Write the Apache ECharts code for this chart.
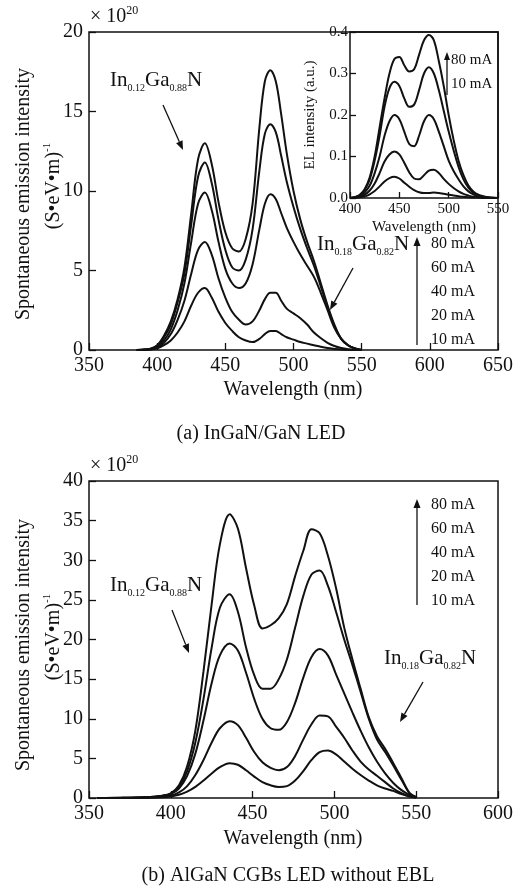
<!DOCTYPE html>
<html>
<head>
<meta charset="utf-8">
<script src="https://cdn.jsdelivr.net/npm/echarts@6.0.0/dist/echarts.min.js"></script>
<style>
  html, body { margin: 0; padding: 0; background: #fff; }
  #chart { width: 523px; height: 892px; }
</style>
</head>
<body>
<div id="chart"></div>
<script>
const SERIF = '"Liberation Serif", "Times New Roman", serif'
const INK = '#111'

// (a) InGaN/GaN LED, spontaneous emission (x 10^20)
const wlA = [385, 390, 395, 400, 405, 410, 415, 420, 425, 430, 435, 440, 445, 450, 455, 460, 465, 470, 475, 479, 483, 487, 491, 495, 500, 505, 510, 515, 520, 525, 530, 535, 540, 545, 550]
const a80 = [0, 0.02, 0.08, 0.3, 0.9, 1.8, 3.2, 5.2, 8.6, 12.0, 13.0, 11.7, 9.3, 7.4, 6.4, 6.2, 7.0, 9.2, 14.0, 16.9, 17.6, 16.9, 14.8, 12.4, 10.0, 8.2, 6.8, 5.6, 4.2, 2.8, 1.6, 0.7, 0.3, 0.1, 0]
const a60 = [0, 0.02, 0.07, 0.25, 0.8, 1.6, 3.0, 4.8, 7.9, 10.9, 11.8, 10.5, 8.2, 6.3, 5.2, 5.0, 5.7, 7.6, 11.3, 13.6, 14.2, 13.7, 12.2, 10.6, 9.0, 7.6, 6.4, 5.3, 4.0, 2.7, 1.5, 0.7, 0.3, 0.1, 0]
const a40 = [0, 0.01, 0.05, 0.2, 0.6, 1.3, 2.5, 4.2, 6.8, 9.2, 9.9, 8.8, 6.8, 5.1, 4.2, 3.9, 4.2, 5.4, 7.6, 9.2, 9.8, 9.5, 8.6, 7.7, 6.8, 6.0, 5.3, 4.6, 3.6, 2.5, 1.4, 0.7, 0.3, 0.1, 0]
const a20 = [0, 0.01, 0.04, 0.15, 0.45, 1.0, 1.9, 3.1, 4.8, 6.3, 6.8, 6.0, 4.5, 3.3, 2.4, 1.9, 1.6, 1.8, 2.5, 3.2, 3.6, 3.6, 3.1, 2.6, 2.3, 2.0, 1.6, 1.1, 0.75, 0.45, 0.25, 0.12, 0.05, 0.02, 0]
const a10 = [0, 0.01, 0.03, 0.1, 0.3, 0.6, 1.1, 1.8, 2.8, 3.6, 3.9, 3.3, 2.4, 1.7, 1.2, 0.8, 0.6, 0.5, 0.7, 1.0, 1.2, 1.2, 1.0, 0.8, 0.65, 0.5, 0.4, 0.3, 0.2, 0.12, 0.07, 0.03, 0.01, 0, 0]

// inset of (a): measured EL intensity (a.u.)
const wlEl = [400, 405, 410, 415, 420, 425, 430, 435, 440, 445, 450, 455, 460, 465, 470, 475, 480, 485, 490, 495, 500, 505, 510, 515, 520, 525, 530, 535, 540, 545, 550]
const el80 = [0, 0.002, 0.008, 0.022, 0.05, 0.1, 0.17, 0.24, 0.3, 0.335, 0.34, 0.32, 0.305, 0.31, 0.345, 0.38, 0.393, 0.38, 0.33, 0.27, 0.2, 0.14, 0.09, 0.055, 0.03, 0.016, 0.008, 0.004, 0.002, 0.001, 0]
const el60 = [0, 0.002, 0.007, 0.02, 0.045, 0.09, 0.15, 0.22, 0.265, 0.28, 0.27, 0.24, 0.22, 0.225, 0.26, 0.3, 0.315, 0.3, 0.26, 0.21, 0.16, 0.115, 0.075, 0.045, 0.025, 0.013, 0.007, 0.003, 0.001, 0, 0]
const el40 = [0, 0.001, 0.005, 0.014, 0.03, 0.06, 0.1, 0.15, 0.185, 0.2, 0.19, 0.16, 0.13, 0.125, 0.15, 0.185, 0.2, 0.19, 0.16, 0.125, 0.09, 0.065, 0.045, 0.028, 0.016, 0.009, 0.005, 0.002, 0.001, 0, 0]
const el20 = [0, 0.001, 0.003, 0.008, 0.018, 0.035, 0.06, 0.088, 0.105, 0.112, 0.105, 0.085, 0.062, 0.047, 0.045, 0.055, 0.066, 0.068, 0.06, 0.046, 0.034, 0.024, 0.016, 0.01, 0.006, 0.003, 0.002, 0.001, 0, 0, 0]
const el10 = [0, 0.001, 0.002, 0.004, 0.009, 0.017, 0.028, 0.04, 0.048, 0.051, 0.047, 0.037, 0.027, 0.019, 0.014, 0.012, 0.012, 0.013, 0.012, 0.01, 0.008, 0.006, 0.004, 0.003, 0.002, 0.001, 0.001, 0, 0, 0, 0]

// (b) AlGaN CGBs LED without EBL (x 10^20)
const wlB = [355, 370, 385, 395, 400, 405, 410, 415, 420, 425, 430, 436, 441, 446, 451, 456, 461, 466, 471, 476, 481, 486, 491, 496, 501, 506, 511, 516, 521, 526, 531, 536, 541, 546, 550]
const b80 = [0, 0.02, 0.1, 0.3, 0.6, 1.6, 4.0, 8.5, 16.0, 24.5, 32.0, 35.8, 34.0, 29.0, 24.3, 21.4, 21.8, 22.7, 24.5, 28.0, 31.2, 33.9, 33.4, 30.6, 26.5, 21.5, 17.5, 13.8, 10.2, 7.8, 6.2, 4.4, 2.5, 0.6, 0.1]
const b60 = [0, 0.02, 0.1, 0.3, 0.55, 1.4, 3.4, 7.0, 12.5, 19.0, 24.0, 25.7, 23.5, 19.0, 15.5, 13.8, 13.8, 15.0, 17.5, 21.5, 25.5, 28.2, 28.7, 26.8, 23.5, 20.0, 16.8, 13.4, 10.0, 7.4, 5.8, 4.1, 2.3, 0.6, 0.1]
const b40 = [0, 0.02, 0.08, 0.25, 0.5, 1.2, 2.8, 5.6, 9.8, 14.5, 18.0, 19.5, 18.6, 15.8, 12.5, 10.0, 8.8, 8.6, 9.6, 12.0, 15.2, 17.8, 18.8, 18.0, 15.6, 13.2, 10.8, 8.5, 6.4, 4.6, 3.1, 1.9, 1.0, 0.4, 0.1]
const b20 = [0, 0.01, 0.05, 0.15, 0.3, 0.7, 1.5, 2.9, 4.8, 7.0, 8.8, 9.7, 9.2, 7.6, 5.8, 4.5, 3.8, 3.5, 3.9, 5.3, 7.4, 9.3, 10.4, 10.3, 9.0, 7.6, 6.0, 4.6, 3.6, 2.8, 2.0, 1.2, 0.6, 0.2, 0.05]
const b10 = [0, 0.01, 0.03, 0.1, 0.2, 0.4, 0.8, 1.4, 2.2, 3.1, 3.9, 4.4, 4.2, 3.5, 2.7, 2.0, 1.6, 1.4, 1.5, 2.2, 3.4, 4.8, 5.8, 6.0, 5.5, 4.6, 3.7, 2.9, 2.2, 1.6, 1.2, 0.9, 0.5, 0.2, 0.05]

const currents = ['80 mA', '60 mA', '40 mA', '20 mA', '10 mA']

const chart = echarts.init(document.getElementById('chart'), null, { renderer: 'canvas' })

function pairs(xs, ys) {
  return xs.map((x, i) => [x, ys[i]])
}

function curves(xs, list, idx) {
  return list.map((ys, i) => ({
    name: currents[i],
    type: 'line',
    xAxisIndex: idx,
    yAxisIndex: idx,
    data: pairs(xs, ys),
    smooth: 0.35,
    symbol: 'none',
    lineStyle: { color: INK, width: 2 },
    z: 3
  }))
}

function valueAxis(idx, min, max, interval, extra) {
  return Object.assign({
    type: 'value',
    gridIndex: idx,
    min: min,
    max: max,
    interval: interval,
    axisLine: { show: false },
    splitLine: { show: false },
    axisTick: { inside: true, length: 7, lineStyle: { color: INK, width: 1.3 } },
    axisLabel: {
      fontFamily: SERIF, fontSize: 20, color: INK, margin: 6,
      showMinLabel: true, showMaxLabel: true, hideOverlap: false
    }
  }, extra || {})
}

function text(x, y, str, size, more) {
  return Object.assign({
    type: 'text',
    x: x,
    y: y,
    z: 100,
    style: Object.assign({
      text: str,
      fontFamily: SERIF,
      fontSize: size,
      fill: INK,
      align: 'left',
      verticalAlign: 'middle'
    }, (more && more.style) || {})
  }, more && more.rotation ? { rotation: more.rotation } : {})
}

// chemical formula with subscripts
function formula(x, y, a, b) {
  return text(x, y, '{m|In}{s|' + a + '}{m|Ga}{s|' + b + '}{m|N}', 21, {
    style: {
      rich: {
        m: { fontFamily: SERIF, fontSize: 21, lineHeight: 26, fill: INK },
        s: { fontFamily: SERIF, fontSize: 10, lineHeight: 12, verticalAlign: 'bottom', fill: INK }
      }
    }
  })
}

function scale(x, y) {
  return text(x, y, '{m|× 10}{s|20}', 20, {
    style: {
      rich: {
        m: { fontFamily: SERIF, fontSize: 20, lineHeight: 24, fill: INK },
        s: { fontFamily: SERIF, fontSize: 12, lineHeight: 12, verticalAlign: 'top', fill: INK }
      }
    }
  })
}

function yName(cx, cy) {
  return [
    text(cx - 30, cy + 8, 'Spontaneous emission intensity', 20, {
      rotation: Math.PI / 2, style: { align: 'center' }
    }),
    text(cx, cy, '{m|(S•eV•m)}{s|-1}', 20, {
      rotation: Math.PI / 2,
      style: {
        align: 'center',
        rich: {
          m: { fontFamily: SERIF, fontSize: 20, lineHeight: 24, fill: INK },
          s: { fontFamily: SERIF, fontSize: 11, lineHeight: 11, verticalAlign: 'top', fill: INK }
        }
      }
    })
  ]
}

function arrow(x1, y1, x2, y2, head, width) {
  const ang = Math.atan2(y2 - y1, x2 - x1)
  const bx = x2 - head * Math.cos(ang)
  const by = y2 - head * Math.sin(ang)
  const px = -Math.sin(ang) * width
  const py = Math.cos(ang) * width
  return [
    { type: 'line', z: 100, shape: { x1: x1, y1: y1, x2: bx, y2: by }, style: { stroke: INK, lineWidth: 1.3 } },
    { type: 'polygon', z: 100, shape: { points: [[x2, y2], [bx + px, by + py], [bx - px, by - py]] }, style: { fill: INK } }
  ]
}

function legend(x, ys, size) {
  return currents.map((c, i) => text(x, ys[i], c, size))
}

const gridStyle = { show: true, borderColor: INK, borderWidth: 1.5, backgroundColor: 'transparent' }

const option = {
  animation: false,
  backgroundColor: '#fff',
  grid: [
    Object.assign({ left: 89, top: 32, width: 409, height: 318 }, gridStyle),
    Object.assign({ left: 350, top: 32, width: 148, height: 166 }, gridStyle),
    Object.assign({ left: 89, top: 481, width: 409, height: 317 }, gridStyle)
  ],
  xAxis: [
    valueAxis(0, 350, 650, 50),
    valueAxis(1, 400, 550, 50, {
      axisTick: { inside: true, length: 6, lineStyle: { color: INK, width: 1.3 } },
      axisLabel: { fontFamily: SERIF, fontSize: 15, color: INK, margin: 4, showMinLabel: true, showMaxLabel: true, hideOverlap: false },
      name: 'Wavelength (nm)',
      nameLocation: 'middle',
      nameGap: 22,
      nameTextStyle: { fontFamily: SERIF, fontSize: 15, color: INK }
    }),
    valueAxis(2, 350, 600, 50)
  ],
  yAxis: [
    valueAxis(0, 0, 20, 5),
    valueAxis(1, 0, 0.4, 0.1, {
      axisTick: { inside: true, length: 6, lineStyle: { color: INK, width: 1.3 } },
      axisLabel: {
        fontFamily: SERIF, fontSize: 15, color: INK, margin: 2,
        showMinLabel: true, showMaxLabel: true, hideOverlap: false,
        formatter: v => v.toFixed(1)
      },
      name: 'EL intensity (a.u.)',
      nameLocation: 'middle',
      nameGap: 32,
      nameTextStyle: { fontFamily: SERIF, fontSize: 15, color: INK }
    }),
    valueAxis(2, 0, 40, 5)
  ],
  series: [].concat(
    curves(wlA, [a80, a60, a40, a20, a10], 0),
    curves(wlEl, [el80, el60, el40, el20, el10], 1),
    curves(wlB, [b80, b60, b40, b20, b10], 2)
  ),
  graphic: [].concat(
    // panel (a)
    [scale(90, 17)],
    yName(54, 186),
    [text(293, 390, 'Wavelength (nm)', 20, { style: { align: 'center' } })],
    [text(261, 434, '(a) InGaN/GaN LED', 20, { style: { align: 'center' } })],
    [formula(110, 80, '0.12', '0.88')],
    arrow(163, 105, 183, 150, 9, 3.5),
    [formula(317, 244, '0.18', '0.82')],
    arrow(353, 268, 330, 310, 9, 3.5),
    arrow(417, 345, 417, 237, 9, 3.5),
    legend(431, [244, 268, 292, 316, 340], 16),
    arrow(447, 95, 447, 52, 8, 3),
    [text(451, 60, '80 mA', 15), text(451, 84, '10 mA', 15)],
    // panel (b)
    [scale(90, 466)],
    yName(54, 637),
    [text(293, 839, 'Wavelength (nm)', 20, { style: { align: 'center' } })],
    [text(288, 876, '(b) AlGaN CGBs LED without EBL', 20, { style: { align: 'center' } })],
    [formula(110, 585, '0.12', '0.88')],
    arrow(172, 610, 189, 653, 9, 3.5),
    [formula(384, 658, '0.18', '0.82')],
    arrow(423, 682, 400, 722, 9, 3.5),
    arrow(417, 605, 417, 499, 9, 3.5),
    legend(431, [505, 529, 553, 577, 601], 16)
  )
}

chart.setOption(option)
</script>
</body>
</html>
